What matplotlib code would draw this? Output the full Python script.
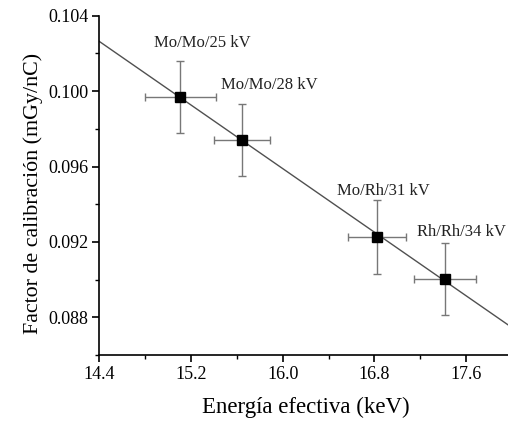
import numpy as np
import matplotlib
matplotlib.use("Agg")
import matplotlib.pyplot as plt
from matplotlib.ticker import MultipleLocator

plt.rcParams["font.family"] = ["Liberation Serif", "DejaVu Serif"]

# effective energy (keV) and calibration factor (mGy/nC)
energy = [15.107, 15.648, 16.823, 17.413]
factor = [0.09968, 0.09739, 0.09227, 0.09004]
energy_err = [0.31, 0.245, 0.253, 0.27]
factor_err = [0.0019, 0.0019, 0.00196, 0.0019]
labels = ["Mo/Mo/25 kV", "Mo/Mo/28 kV", "Mo/Rh/31 kV", "Rh/Rh/34 kV"]
label_x = [15.30, 15.88, 16.88, 17.56]
label_y = [0.10256, 0.10030, 0.09470, 0.09252]

fig = plt.figure(figsize=(5.08, 4.24), dpi=100)
ax = fig.add_axes([0.1955, 0.1627, 1.0077 - 0.1955, 0.963 - 0.1627])

# linear fit through the points
slope, intercept = np.polyfit(energy, factor, 1)
xs = np.array([14.4, 18.0])
ax.plot(xs, slope * xs + intercept, color="#505050", lw=1.0, zorder=2)

ax.errorbar(energy, factor, xerr=energy_err, yerr=factor_err, fmt="none",
            ecolor="#777777", elinewidth=1.0, capsize=3, capthick=1.0, zorder=3)
ax.plot(energy, factor, "s", color="black", markersize=7, zorder=4)

for lab, lx, ly in zip(labels, label_x, label_y):
    ax.text(lx, ly, lab, fontsize=12, ha="center", va="center", color="#222222")

ax.set_xlim(14.4, 18.0)
ax.set_ylim(0.086, 0.104)
ax.xaxis.set_major_locator(MultipleLocator(0.8))
ax.xaxis.set_minor_locator(MultipleLocator(0.4))
ax.yaxis.set_major_locator(MultipleLocator(0.004))
ax.yaxis.set_minor_locator(MultipleLocator(0.002))
ax.xaxis.set_major_formatter(plt.FuncFormatter(lambda v, p: f"{v:.1f}"))
ax.yaxis.set_major_formatter(plt.FuncFormatter(lambda v, p: f"{v:.3f}"))

ax.spines["top"].set_visible(False)
ax.spines["right"].set_visible(False)
ax.spines["left"].set_linewidth(1.2)
ax.spines["bottom"].set_linewidth(1.2)
ax.tick_params(which="major", direction="out", length=5, width=1.2, labelsize=13, pad=3)
ax.tick_params(which="minor", direction="out", length=3, width=1.0)

ax.set_xlabel("Energía efectiva (keV)", fontsize=16.5, labelpad=10)
ax.set_ylabel("Factor de calibración (mGy/nC)", fontsize=15.8)
ax.yaxis.set_label_coords(-0.136, 0.476)

fig.savefig("out.png", dpi=100)
